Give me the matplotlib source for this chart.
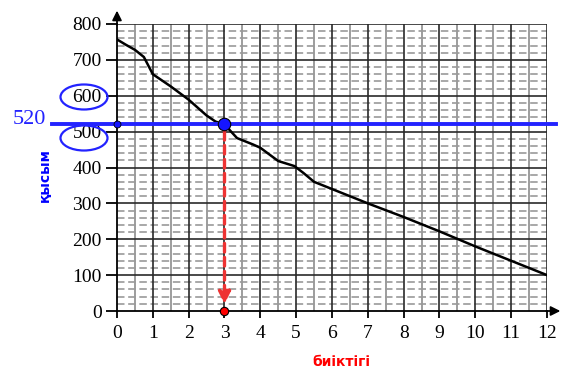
import matplotlib
matplotlib.use('Agg')
import numpy as np
import matplotlib.pyplot as plt
from matplotlib.patches import Ellipse

# data
heights = [0, 0.25, 0.5, 0.75, 1, 1.5, 2, 2.5, 2.75, 3, 3.35, 3.8, 4, 4.5, 4.95, 5.2, 5.5, 6, 7, 8, 9, 10, 11, 12]
pressure = [757, 742, 728, 708, 660, 626, 589, 545, 528, 520, 482, 464, 455, 418, 404, 385, 360, 340, 300, 262, 222, 180, 140, 100]
x_ticks = list(range(0, 13))
y_ticks = list(range(0, 801, 100))
read_x = 3
read_y = 520

fig = plt.figure(figsize=(5.69, 3.76), dpi=100, facecolor='white')
ax = fig.add_axes([117/569, 65/376, 430/569, 287/376])
ax.set_xlim(0, 12)
ax.set_ylim(0, 800)

# grid: integer / half verticals, 100 solid and 20 dashed horizontals
for v in np.arange(0.5, 12, 1.0):
    ax.axvline(v, color='#8c8c8c', lw=1.2, zorder=1)
for v in range(1, 13):
    ax.axvline(v, color='#2a2a2a', lw=1.2, zorder=1.5)
for h in range(0, 801, 20):
    if h % 100:
        ax.axhline(h, color='#9a9a9a', lw=1.2, ls=(0, (4.5, 2.2)), zorder=1)
for h in range(100, 801, 100):
    ax.axhline(h, color='#2a2a2a', lw=1.2, zorder=1.5)

for s in ['top', 'right']:
    ax.spines[s].set_visible(False)
ax.spines['left'].set_linewidth(1.3)
ax.spines['bottom'].set_linewidth(1.3)

# axis arrows
ax.annotate('', xy=(12.45, 0), xytext=(11.9, 0), annotation_clip=False,
            arrowprops=dict(arrowstyle='-|>', color='black', lw=1.3, mutation_scale=14))
ax.annotate('', xy=(0, 845), xytext=(0, 790), annotation_clip=False,
            arrowprops=dict(arrowstyle='-|>', color='black', lw=1.3, mutation_scale=14))

ax.plot(heights, pressure, color='black', lw=1.8, zorder=3)

# reading line at 520
ax.plot([-1.8, 12.25], [read_y, read_y], color='#2323ff', lw=2.8, zorder=4, clip_on=False)
ax.plot([0], [read_y], 'o', ms=5, color='#1515ff', mec='black', mew=0.6, zorder=6, clip_on=False)
ax.plot([read_x], [read_y], 'o', ms=9, color='#1515ff', mec='black', mew=0.8, zorder=6)
ax.annotate('', xy=(read_x, 0), xytext=(read_x, read_y),
            arrowprops=dict(arrowstyle='-|>', color='#ee3333', lw=2.4, ls=(0, (2.6, 1.6)),
                            mutation_scale=18, shrinkA=5, shrinkB=5), zorder=5)
ax.plot([read_x], [0], 'o', ms=6, color='#ff0000', mec='black', mew=0.8, zorder=6, clip_on=False)

ax.set_xticks(x_ticks)
ax.set_yticks(y_ticks)
ax.set_xticklabels([str(t) for t in x_ticks], family='Liberation Serif', fontsize=14)
ax.set_yticklabels([str(t) for t in y_ticks], family='Liberation Serif', fontsize=14)
ax.tick_params(axis='y', length=8, width=1.3, pad=3)
ax.tick_params(axis='x', length=5, width=1.3, pad=5)

fig.text(29/569, 1 - 119/376, '520', color='#2323ff', family='Liberation Serif',
         fontsize=16, ha='center', va='center')
for yc in [97, 138]:
    fig.patches.append(Ellipse((84/569, 1 - yc/376), 47/569, 25/376, transform=fig.transFigure,
                               fill=False, edgecolor='#2323ff', lw=1.6))

fig.text(45/569, 1 - 175/376, 'қысым', color='#0000ff', fontweight='bold', fontsize=10,
         rotation=90, ha='center', va='center')
fig.text(341/569, 1 - 362/376, 'биіктігі', color='#ff0000', fontweight='bold', fontsize=10,
         ha='center', va='center')

fig.savefig('out.png', dpi=100, facecolor='white')
